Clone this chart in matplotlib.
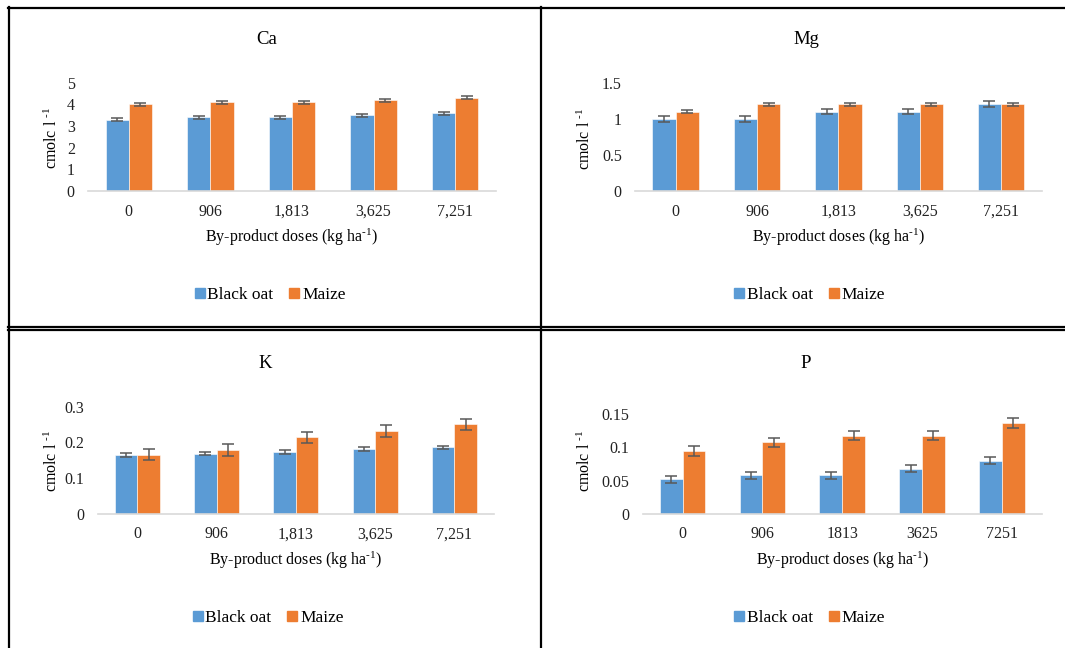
import numpy as np
import matplotlib
matplotlib.use("Agg")
import matplotlib.pyplot as plt
from matplotlib.lines import Line2D

plt.rcParams['font.family'] = ['Liberation Serif', 'DejaVu Serif']
plt.rcParams['mathtext.fontset'] = 'custom'
plt.rcParams['mathtext.rm'] = 'Liberation Serif'
plt.rcParams['mathtext.it'] = 'Liberation Serif:italic'

# soil nutrient contents per by-product dose
doses_comma = ["0", "906", "1,813", "3,625", "7,251"]
doses_plain = ["0", "906", "1813", "3625", "7251"]

ca_oat = [3.3, 3.4, 3.4, 3.5, 3.6]
ca_maize = [4.0, 4.1, 4.1, 4.2, 4.3]
ca_oat_err = [0.07, 0.07, 0.07, 0.07, 0.07]
ca_maize_err = [0.07, 0.07, 0.07, 0.07, 0.07]

mg_oat = [1.0, 1.0, 1.1, 1.1, 1.2]
mg_maize = [1.1, 1.2, 1.2, 1.2, 1.2]
mg_oat_err = [0.04, 0.04, 0.04, 0.04, 0.04]
mg_maize_err = [0.02, 0.02, 0.02, 0.02, 0.02]

k_oat = [0.165, 0.169, 0.174, 0.182, 0.186]
k_maize = [0.166, 0.179, 0.214, 0.232, 0.251]
k_oat_err = [0.005, 0.005, 0.005, 0.005, 0.005]
k_maize_err = [0.016, 0.016, 0.016, 0.017, 0.016]

p_oat = [0.052, 0.058, 0.058, 0.068, 0.080]
p_maize = [0.094, 0.107, 0.117, 0.117, 0.136]
p_oat_err = [0.005, 0.005, 0.005, 0.005, 0.005]
p_maize_err = [0.007, 0.007, 0.007, 0.007, 0.007]

BLUE = "#5B9BD5"
ORANGE = "#ED7D31"
ERR = "#595959"
SERIF = "Liberation Serif"

W, H = 1065, 648
fig = plt.figure(figsize=(W / 100, H / 100), dpi=100)


def fx(x):
    return x / W


def fy(y):
    return 1 - y / H


def panel(box, title, title_xy, oat, maize, oat_err, maize_err, ticks, labels,
          ylab_xy, xlab_y, legend_xy):
    x0, y0, x1, y1 = box
    ax = fig.add_axes([fx(x0), fy(y1), (x1 - x0) / W, (y1 - y0) / H])
    x = np.arange(len(labels))
    bw = 0.285
    ax.bar(x - bw / 2, oat, bw, color=BLUE, edgecolor="white", linewidth=0.4)
    ax.bar(x + bw / 2, maize, bw, color=ORANGE, edgecolor="white", linewidth=0.4)
    ax.errorbar(x - bw / 2, oat, yerr=oat_err, fmt="none", ecolor=ERR,
                elinewidth=1.1, capsize=4, capthick=1.1, clip_on=False)
    ax.errorbar(x + bw / 2, maize, yerr=maize_err, fmt="none", ecolor=ERR,
                elinewidth=1.1, capsize=4, capthick=1.1, clip_on=False)
    ax.set_xlim(-0.5, len(labels) - 0.5)
    ax.set_ylim(0, ticks[-1])
    ax.set_yticks(ticks)
    ax.set_yticklabels(["{:g}".format(t) for t in ticks])
    ax.set_xticks(x)
    ax.set_xticklabels(labels)
    ax.tick_params(length=0, labelsize=11.5, colors="#222222")
    ax.tick_params(axis="y", pad=9.5)
    ax.tick_params(axis="x", pad=9)
    for s in ["top", "right", "left"]:
        ax.spines[s].set_visible(False)
    ax.spines["bottom"].set_color("#D9D9D9")
    ax.spines["bottom"].set_linewidth(1.2)

    fig.text(fx(title_xy[0]), fy(title_xy[1]), title, fontsize=13.5,
             ha="center", va="center")
    fig.text(fx(ylab_xy[0]), fy(ylab_xy[1]), r"cmolc l $^{\text{-}1}$",
             fontsize=11.5, rotation=90, ha="center", va="center")
    fig.text(fx((x0 + x1) / 2), fy(xlab_y),
             r"By-product doses (kg ha$^{\text{-}1}$)",
             fontsize=11.5, ha="center", va="center")
    handles = [Line2D([], [], marker="s", linestyle="none", color=BLUE,
                      markersize=6.5),
               Line2D([], [], marker="s", linestyle="none", color=ORANGE,
                      markersize=6.5)]
    fig.legend(handles, ["Black oat", "Maize"], loc="center",
               bbox_to_anchor=(fx(legend_xy[0]), fy(legend_xy[1])), ncol=2,
               frameon=False, prop={"family": SERIF, "size": 12.5},
               handlelength=0.6, handletextpad=0.15, columnspacing=0.9,
               borderpad=0)
    return ax


panel((88, 82.7, 496, 191), "Ca", (267, 40), ca_oat, ca_maize, ca_oat_err,
      ca_maize_err, [0, 1, 2, 3, 4, 5], doses_comma, (52, 138), 237, (270, 295))
panel((635, 82.7, 1041.7, 191), "Mg", (806.7, 40), mg_oat, mg_maize,
      mg_oat_err, mg_maize_err, [0, 0.5, 1, 1.5], doses_comma, (585, 138.5),
      237, (809.7, 295))
panel((97.7, 406.7, 494, 514), "K", (265.7, 363), k_oat, k_maize, k_oat_err,
      k_maize_err, [0, 0.1, 0.2, 0.3], doses_comma, (52, 460.8), 560,
      (268, 618.3))
panel((642.7, 413.7, 1041.7, 514), "P", (805.7, 363), p_oat, p_maize,
      p_oat_err, p_maize_err, [0, 0.05, 0.1, 0.15], doses_plain, (585, 460.8),
      560, (809.7, 618.3))

# frame lines around the four panels
frame = dict(color="black", linewidth=1.6, transform=fig.transFigure)
fig.add_artist(Line2D([fx(8), fx(W)], [fy(7.5), fy(7.5)], **frame))
fig.add_artist(Line2D([fx(8.5), fx(8.5)], [fy(7), fy(H)], **frame))
fig.add_artist(Line2D([fx(541), fx(541)], [fy(7), fy(H)], **frame))
fig.add_artist(Line2D([fx(8), fx(W)], [fy(327.3), fy(327.3)], **frame))
fig.add_artist(Line2D([fx(8), fx(W)], [fy(330.3), fy(330.3)], **frame))

fig.savefig("out.png", dpi=100, facecolor="white")
